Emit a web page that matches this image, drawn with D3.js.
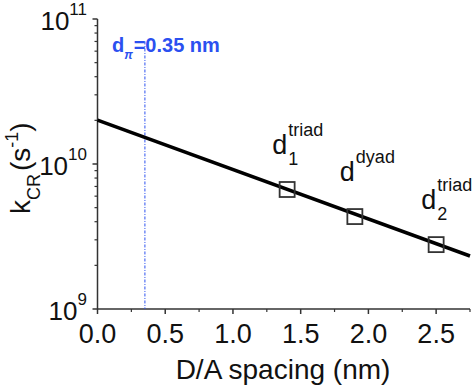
<!DOCTYPE html>
<html><head><meta charset="utf-8">
<script src="https://cdn.jsdelivr.net/npm/d3@7"></script>
<style>body{margin:0;background:#fff}svg{display:block}text{font-family:"Liberation Sans",Arial,sans-serif}</style>
</head><body>
<svg id="chart" width="473" height="385"></svg>
<script>
const spacing = [1.4, 1.9, 2.5];
const kcr = [6.67e9, 4.34e9, 2.78e9];
const pointNames = ["d", "d", "d"];
const pointSups = ["triad", "dyad", "triad"];
const pointSubs = ["1", "", "2"];
const fitX = [0, 2.75];
const fitK = [2.01e10, 2.32e9];
const xTicks = [0, 0.5, 1.0, 1.5, 2.0, 2.5];
const xMinor = [0.25, 0.75, 1.25, 1.75, 2.25, 2.75];
const yExponents = [9, 10, 11];
const dPi = 0.35;
const dPiTop = 7.0e10;

const svg = d3.select("#chart");
const x = d3.scaleLinear().domain([0, 2.75]).range([97.5, 470]);
const y = d3.scaleLog().domain([1e9, 1e11]).range([309, 19]);
const axisColor = "#333";

const yMinor = [];
[1e9, 1e10].forEach(b => { for (let m = 2; m <= 9; m++) yMinor.push(b * m); });

// x axis
const xAxisG = svg.append("g");
xAxisG.append("line").attr("x1", x(0)).attr("x2", x(2.75)).attr("y1", y(1e9)).attr("y2", y(1e9))
  .attr("stroke", axisColor).attr("stroke-width", 1.5);
xAxisG.selectAll(".xt").data(xTicks).join("line")
  .attr("x1", d => x(d)).attr("x2", d => x(d)).attr("y1", y(1e9)).attr("y2", y(1e9) + 5)
  .attr("stroke", axisColor).attr("stroke-width", 1.5);
xAxisG.selectAll(".xm").data(xMinor).join("line")
  .attr("x1", d => x(d)).attr("x2", d => x(d)).attr("y1", y(1e9)).attr("y2", y(1e9) + 3)
  .attr("stroke", axisColor).attr("stroke-width", 1.2);
xAxisG.selectAll(".xl").data(xTicks).join("text")
  .attr("x", d => x(d)).attr("y", 343).attr("text-anchor", "middle")
  .attr("font-size", 27).attr("fill", "#111").text(d => d.toFixed(1));
svg.append("text").attr("x", 283).attr("y", 379).attr("text-anchor", "middle")
  .attr("font-size", 28).attr("fill", "#111").text("D/A spacing (nm)");

// y axis
const yAxisG = svg.append("g");
yAxisG.append("line").attr("x1", x(0)).attr("x2", x(0)).attr("y1", y(1e9)).attr("y2", y(1e11))
  .attr("stroke", axisColor).attr("stroke-width", 1.5);
yAxisG.selectAll(".yt").data(yExponents).join("line")
  .attr("x1", x(0) - 5).attr("x2", x(0)).attr("y1", d => y(Math.pow(10, d))).attr("y2", d => y(Math.pow(10, d)))
  .attr("stroke", axisColor).attr("stroke-width", 1.5);
yAxisG.selectAll(".ym").data(yMinor).join("line")
  .attr("x1", x(0) - 3).attr("x2", x(0)).attr("y1", d => y(d)).attr("y2", d => y(d))
  .attr("stroke", axisColor).attr("stroke-width", 1.2);
const yl = yAxisG.selectAll(".yl").data(yExponents).join("text")
  .attr("x", 87).attr("y", d => y(Math.pow(10, d)) + 11).attr("text-anchor", "end")
  .attr("font-size", 26).attr("fill", "#111");
yl.append("tspan").text("10");
yl.append("tspan").attr("font-size", 17).attr("dy", -15).text(d => d);

// y title
const yt = svg.append("text").attr("transform", "translate(30,214) rotate(-90)")
  .attr("font-size", 28).attr("fill", "#111");
yt.append("tspan").text("k");
yt.append("tspan").attr("font-size", 18).attr("dy", 10).text("CR");
yt.append("tspan").attr("dy", -10).attr("dx", 3).text("(s");
yt.append("tspan").attr("font-size", 18).attr("dy", -12).text("-1");
yt.append("tspan").attr("dy", 12).text(")");

// d_pi line and label
const blue = "#2b50f0";
svg.append("line").attr("x1", x(dPi)).attr("x2", x(dPi)).attr("y1", y(dPiTop)).attr("y2", y(1e9))
  .attr("stroke", blue).attr("stroke-width", 1).attr("stroke-dasharray", "3,1.5,1,1.5");
const bl = svg.append("text").attr("x", x(dPi) - 33).attr("y", 52).attr("fill", blue)
  .attr("font-weight", "bold").attr("font-size", 20);
bl.append("tspan").text("d");
bl.append("tspan").attr("font-size", 12).attr("font-style", "italic").attr("dy", 7).text("π");
bl.append("tspan").attr("dy", -7).attr("dx", 1).text("=" + dPi + " nm");

// fit line
const fitData = fitX.map((v, i) => [v, fitK[i]]);
svg.append("path").datum(fitData)
  .attr("d", d3.line().x(d => x(d[0])).y(d => y(d[1])))
  .attr("stroke", "#000").attr("stroke-width", 3.5).attr("fill", "none");

// points
const pts = spacing.map((v, i) => ({ s: v, k: kcr[i], name: pointNames[i], sup: pointSups[i], sub: pointSubs[i] }));
svg.selectAll(".pt").data(pts).join("rect")
  .attr("x", d => x(d.s) - 7.5).attr("y", d => y(d.k) - 7.5).attr("width", 15).attr("height", 15)
  .attr("fill", "none").attr("stroke", "#333").attr("stroke-width", 1.8);

// labels
const lab = svg.selectAll(".lab").data(pts).join("g")
  .attr("transform", d => `translate(${x(d.s) - 15},${y(d.k) - 36})`);
lab.append("text").attr("x", 0).attr("y", 0).attr("font-size", 27).attr("fill", "#111").text(d => d.name);
lab.append("text").attr("x", 16).attr("y", -18).attr("font-size", 18).attr("fill", "#111").text(d => d.sup);
lab.append("text").attr("x", 16).attr("y", 11).attr("font-size", 18).attr("fill", "#111").text(d => d.sub);
</script>
</body></html>
